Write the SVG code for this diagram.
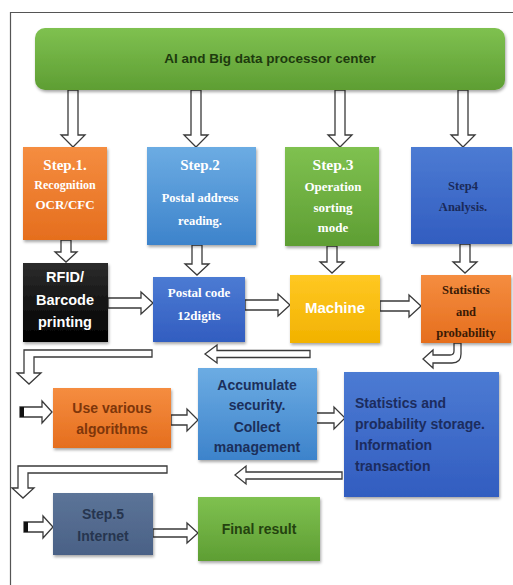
<svg xmlns="http://www.w3.org/2000/svg" width="513" height="585" viewBox="0 0 513 585">
<defs>
<linearGradient id="gGreen" x1="0" y1="0" x2="0" y2="1"><stop offset="0" stop-color="#7fc150"/><stop offset="1" stop-color="#5e9e33"/></linearGradient>
<linearGradient id="gOrange" x1="0" y1="0" x2="0" y2="1"><stop offset="0" stop-color="#f58d40"/><stop offset="1" stop-color="#e56e1e"/></linearGradient>
<linearGradient id="gLBlue" x1="0" y1="0" x2="0" y2="1"><stop offset="0" stop-color="#6cace3"/><stop offset="1" stop-color="#3d83cb"/></linearGradient>
<linearGradient id="gBlue" x1="0" y1="0" x2="0" y2="1"><stop offset="0" stop-color="#4c7bd3"/><stop offset="1" stop-color="#325dc0"/></linearGradient>
<linearGradient id="gBlack" x1="0" y1="0" x2="0" y2="1"><stop offset="0" stop-color="#2c2c2c"/><stop offset="1" stop-color="#000"/></linearGradient>
<linearGradient id="gGold" x1="0" y1="0" x2="0" y2="1"><stop offset="0" stop-color="#ffc823"/><stop offset="1" stop-color="#f2b200"/></linearGradient>
<linearGradient id="gSlate" x1="0" y1="0" x2="0" y2="1"><stop offset="0" stop-color="#5c7498"/><stop offset="1" stop-color="#4a6186"/></linearGradient>
<filter id="sh" x="-10%" y="-10%" width="125%" height="130%"><feDropShadow dx="1" dy="2" stdDeviation="1.5" flood-opacity="0.35"/></filter>
</defs>
<style>
.frame{fill:none;stroke:#555;stroke-width:1.2}
.box{filter:url(#sh)}
.arr{fill:#fff;stroke:#3a3a3a;stroke-width:1.3;stroke-linejoin:miter}
.tail{fill:#111}
.serif{font-family:"Liberation Serif","Times New Roman",serif;font-weight:bold;text-anchor:middle}
.sans{font-family:"Liberation Sans",Arial,sans-serif;font-weight:bold;text-anchor:middle}
.w{fill:#fff}
</style>
<path class="frame" d="M513 12.5 H10.5 V585"/>

<g id="connectors">
<!-- top bar down arrows -->
<path class="arr" d="M68 90 V135 H61 L73 147 L85 135 H78 V90 Z"/>
<path class="arr" d="M191 90 V135 H184 L196 147 L208 135 H201 V90 Z"/>
<path class="arr" d="M335 90 V135 H328 L340 147 L352 135 H345 V90 Z"/>
<path class="arr" d="M458 90 V135 H451 L463 147 L475 135 H468 V90 Z"/>
<!-- step to row2 -->
<path class="arr" d="M61 240 V252 H55 L66 262 L77 252 H71 V240 Z"/>
<path class="arr" d="M192 245 V264 H185 L197 275 L209 264 H202 V245 Z"/>
<path class="arr" d="M327 246 V262 H320 L332 273 L344 262 H337 V246 Z"/>
<path class="arr" d="M460 244 V262 H453 L465 273 L477 262 H470 V244 Z"/>
<!-- row2 horizontal -->
<path class="arr" d="M108 298 H141 V292 L153 303 L141 314 V308 H108 Z"/>
<path class="arr" d="M245 300 H278 V294 L290 305 L278 316 V310 H245 Z"/>
<path class="arr" d="M380 301 H409 V295 L421 306 L409 317 V311 H380 Z"/>
<!-- stats to storage curved -->
<path class="arr" d="M454 343 V351 Q454 355 450 355 H433 V350 L423 359 L433 368 V363 H452 Q461 363 461 354 V343 Z"/>
<!-- machine back-left -->
<path class="arr" d="M310 350.5 H217 V345 L205 354 L217 363 V357.5 H310 Z"/>
<!-- bracket 1 -->
<path class="arr" d="M152 350 H24 V373 H17 L29 384 L41 373 H34 V357 H152 Z"/>
<!-- entry 1 -->
<path class="arr" d="M20 407 H42 V401 L52 412 L42 423 V417 H20 Z"/>
<rect class="tail" x="20" y="407" width="4" height="10"/>
<!-- row3 horizontal -->
<path class="arr" d="M171 415 H187 V409 L198 420 L187 431 V425 H171 Z"/>
<path class="arr" d="M314 413 H334 V407 L345 418 L334 429 V423 H314 Z"/>
<!-- storage back-left -->
<path class="arr" d="M342 472 H246 V466 L235 475 L246 484 V479 H342 Z"/>
<!-- bracket 2 -->
<path class="arr" d="M167 466 H18 V488 H12 L23 498 L34 488 H28 V473 H167 Z"/>
<!-- entry 2 -->
<path class="arr" d="M24 522 H43 V516 L53 527 L43 538 V532 H24 Z"/>
<rect class="tail" x="24" y="522" width="4" height="10"/>
<!-- step5 to final -->
<path class="arr" d="M153 529 H187 V523 L198 533 L187 543 V537 H153 Z"/>
</g>

<g id="top">
<rect class="box" x="35" y="28" width="470" height="62" rx="10" fill="url(#gGreen)"/>
<text class="sans" x="270" y="63" font-size="13.5" fill="#1d3a0e">AI and Big data processor center</text>
</g>

<g id="step1">
<rect class="box" x="23" y="147" width="84" height="93" fill="url(#gOrange)"/>
<text class="serif w" x="65" y="170" font-size="15">Step.1.</text>
<text class="serif w" x="65" y="189" font-size="12">Recognition</text>
<text class="serif w" x="65" y="209" font-size="13">OCR/CFC</text>
</g>

<g id="step2">
<rect class="box" x="147" y="147" width="109" height="98" fill="url(#gLBlue)"/>
<text class="serif w" x="200" y="170" font-size="15">Step.2</text>
<text class="serif w" x="200" y="202" font-size="12.5">Postal address</text>
<text class="serif w" x="200" y="225" font-size="12.5">reading.</text>
</g>

<g id="step3">
<rect class="box" x="285" y="147" width="94" height="99" fill="url(#gGreen)"/>
<text class="serif w" x="333" y="170" font-size="15.5">Step.3</text>
<text class="serif w" x="333" y="191" font-size="13">Operation</text>
<text class="serif w" x="333" y="212" font-size="13">sorting</text>
<text class="serif w" x="333" y="232" font-size="13">mode</text>
</g>

<g id="step4">
<rect class="box" x="411" y="147" width="101" height="97" fill="url(#gBlue)"/>
<text class="serif" x="463" y="190" font-size="12.5" fill="#1a2a5a">Step4</text>
<text class="serif" x="463" y="211" font-size="12.5" fill="#1a2a5a">Analysis.</text>
</g>

<g id="rfid">
<rect class="box" x="23" y="263" width="85" height="79" fill="url(#gBlack)"/>
<text class="sans w" x="65" y="282" font-size="14.5">RFID/</text>
<text class="sans w" x="65" y="305" font-size="14.5">Barcode</text>
<text class="sans w" x="65" y="327" font-size="14.5">printing</text>
</g>

<g id="postal">
<rect class="box" x="153" y="277" width="92" height="65" fill="url(#gBlue)"/>
<text class="serif w" x="199" y="297" font-size="13">Postal code</text>
<text class="serif w" x="199" y="320" font-size="13">12digits</text>
</g>

<g id="machine">
<rect class="box" x="290" y="275" width="90" height="68" fill="url(#gGold)"/>
<text class="sans w" x="335" y="313" font-size="15">Machine</text>
</g>

<g id="stats">
<rect class="box" x="421" y="275" width="90" height="68" fill="url(#gOrange)"/>
<text class="serif" x="466" y="294" font-size="12.5" fill="#3a1a05">Statistics</text>
<text class="serif" x="466" y="316" font-size="12.5" fill="#3a1a05">and</text>
<text class="serif" x="466" y="337" font-size="12.5" fill="#3a1a05">probability</text>
</g>

<g id="algorithms">
<rect class="box" x="53" y="388" width="118" height="60" fill="url(#gOrange)"/>
<text class="sans" x="112" y="413" font-size="14" fill="#7e360a">Use various</text>
<text class="sans" x="112" y="434" font-size="14" fill="#7e360a">algorithms</text>
</g>

<g id="accumulate">
<rect class="box" x="198" y="368" width="119" height="92" fill="url(#gLBlue)"/>
<text class="sans" x="257" y="390" font-size="14" fill="#1c2f5a">Accumulate</text>
<text class="sans" x="257" y="410" font-size="14" fill="#1c2f5a">security.</text>
<text class="sans" x="257" y="432" font-size="14" fill="#1c2f5a">Collect</text>
<text class="sans" x="257" y="452" font-size="14" fill="#1c2f5a">management</text>
</g>

<g id="storage">
<rect class="box" x="344" y="372" width="155" height="125" fill="url(#gBlue)"/>
<g font-family="'Liberation Sans',Arial,sans-serif" font-weight="bold" font-size="14" fill="#1c2c5e">
<text x="355" y="408">Statistics and</text>
<text x="355" y="429">probability storage.</text>
<text x="355" y="450">Information</text>
<text x="355" y="471">transaction</text>
</g>
</g>

<g id="step5">
<rect class="box" x="53" y="493" width="100" height="62" fill="url(#gSlate)"/>
<text class="sans" x="103" y="519" font-size="14" fill="#26354f">Step.5</text>
<text class="sans" x="103" y="541" font-size="14" fill="#26354f">Internet</text>
</g>

<g id="final">
<rect class="box" x="198" y="497" width="122" height="64" fill="url(#gGreen)"/>
<text class="sans" x="259" y="534" font-size="14" fill="#24430f">Final result</text>
</g>
</svg>
